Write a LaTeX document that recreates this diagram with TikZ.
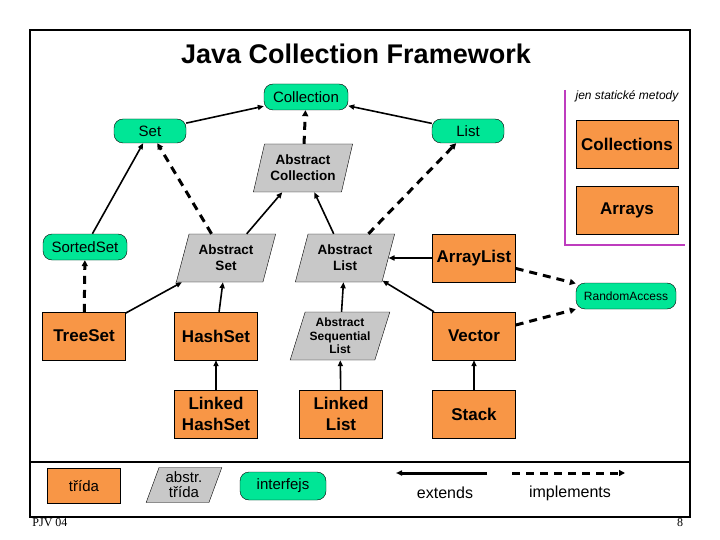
\documentclass[tikz,border=0pt]{standalone}
\usepackage{fontspec}
\setmainfont{Liberation Sans}
\newfontfamily\serifx{Liberation Serif}
\usetikzlibrary{shapes.geometric,arrows.meta}
\definecolor{ifc}{RGB}{0,230,150}
\definecolor{cls}{RGB}{248,150,70}
\definecolor{abs}{RGB}{200,200,200}
\definecolor{mag}{RGB}{190,60,190}
\begin{document}
\begin{tikzpicture}[x=1pt,y=-1pt,
 ifc/.style={draw,fill=ifc,rounded corners=9pt,minimum height=26pt,font=\fontsize{15}{16}\selectfont,inner sep=2pt},
 cls/.style={draw,fill=cls,minimum width=83pt,minimum height=48pt,font=\bfseries\fontsize{17}{21}\selectfont,align=center,inner sep=1pt},
 abs/.style={draw,fill=abs,trapezium,trapezium left angle=70,trapezium right angle=110,trapezium stretches=true,minimum width=100pt,minimum height=48pt,font=\bfseries\fontsize{13.5}{16}\selectfont,align=center,inner sep=0pt},
 ext/.style={line width=1.6pt,-{Triangle[length=6pt,width=5pt]}},
 imp/.style={line width=3pt,dash pattern=on 8pt off 6pt,-{Triangle[length=6pt,width=6pt]}}]
\useasboundingbox (0,0) rectangle (720,540);
\draw[line width=1.5pt] (30,30) rectangle (690,517);
\draw[line width=1.5pt] (30,462) -- (690,462);
\node (title) at (356,54) {\bfseries\fontsize{27}{30}\selectfont Java Collection Framework};
\draw[mag,line width=1.2pt] (565,90) -- (565,245) -- (685,245);
\node (jen) at (627,96) {\itshape\fontsize{12}{13}\selectfont jen statické metody};
\node[cls,minimum width=102pt] (colls) at (627,144) {Collections};
\node[cls,minimum width=102pt] (arrs) at (627,210) {Arrays};
\node[ifc,minimum width=84pt] (coll) at (306,97) {Collection};
\node[ifc,minimum width=72pt,minimum height=24pt] (set) at (150,131) {Set};
\node[ifc,minimum width=72pt,minimum height=24pt] (list) at (468,131) {List};
\node[abs] (acoll) at (303,168) {Abstract\\Collection};
\node[ifc,minimum width=84pt] (sset) at (85,247) {SortedSet};
\node[abs] (aset) at (226,258) {Abstract\\Set};
\node[abs] (alist) at (345,258) {Abstract\\List};
\node[cls] (alst) at (474,258) {ArrayList};
\node[ifc,minimum width=100pt,font=\fontsize{12}{13}\selectfont] (ra) at (626,296) {RandomAccess};
\node[cls] (tset) at (84,336) {TreeSet};
\node[cls] (hset) at (216,336) {HashSet};
\node[abs,font=\bfseries\fontsize{12}{13.5}\selectfont] (aseq) at (340,336) {Abstract\\Sequential\\List};
\node[cls] (vec) at (474,336) {Vector};
\node[cls] (lhs) at (216,414) {Linked\\HashSet};
\node[cls] (ll) at (341,414) {Linked\\List};
\node[cls] (stack) at (474,414) {Stack};
\draw[ext] (set) -- (coll);
\draw[ext] (list) -- (coll);
\draw[imp] (acoll) -- (coll);
\draw[ext] (sset) -- (set);
\draw[imp] (aset) -- (set);
\draw[ext] (aset) -- (acoll);
\draw[ext] (alist) -- (acoll);
\draw[imp] (alist) -- (list);
\draw[imp] (tset) -- (sset);
\draw[ext] (tset) -- (aset);
\draw[ext] (hset) -- (aset);
\draw[ext] (alst) -- (alist);
\draw[ext] (vec) -- (alist);
\draw[imp] (alst) -- (ra);
\draw[imp] (vec) -- (ra);
\draw[ext] (aseq) -- (alist);
\draw[ext] (lhs) -- (hset);
\draw[ext] (ll) -- (aseq);
\draw[ext] (stack) -- (vec);
% legend
\node[cls,minimum width=73pt,minimum height=35pt,font=\fontsize{15}{16}\selectfont] (lt) at (84,486) {třída};
\node[abs,minimum width=76pt,minimum height=35pt,font=\fontsize{15}{15}\selectfont] (la) at (184,485) {abstr.\\třída};
\node[ifc,minimum width=86pt,minimum height=28pt] (li) at (283,486) {interfejs};
\coordinate (e1) at (487,473); \coordinate (e2) at (396,473);
\draw[ext,line width=3pt] (e1) -- (e2);
\coordinate (i1) at (512,473); \coordinate (i2) at (625,473);
\draw[imp] (i1) -- (i2);
\node (extl) at (445,493) {\fontsize{16}{17}\selectfont extends};
\node (impl) at (570,493) {\fontsize{16}{17}\selectfont implements};
\node (pjv) at (50,523) {\serifx\fontsize{12}{13}\selectfont PJV 04};
\node (pg) at (680,523) {\serifx\fontsize{12}{13}\selectfont 8};
\end{tikzpicture}
\end{document}
